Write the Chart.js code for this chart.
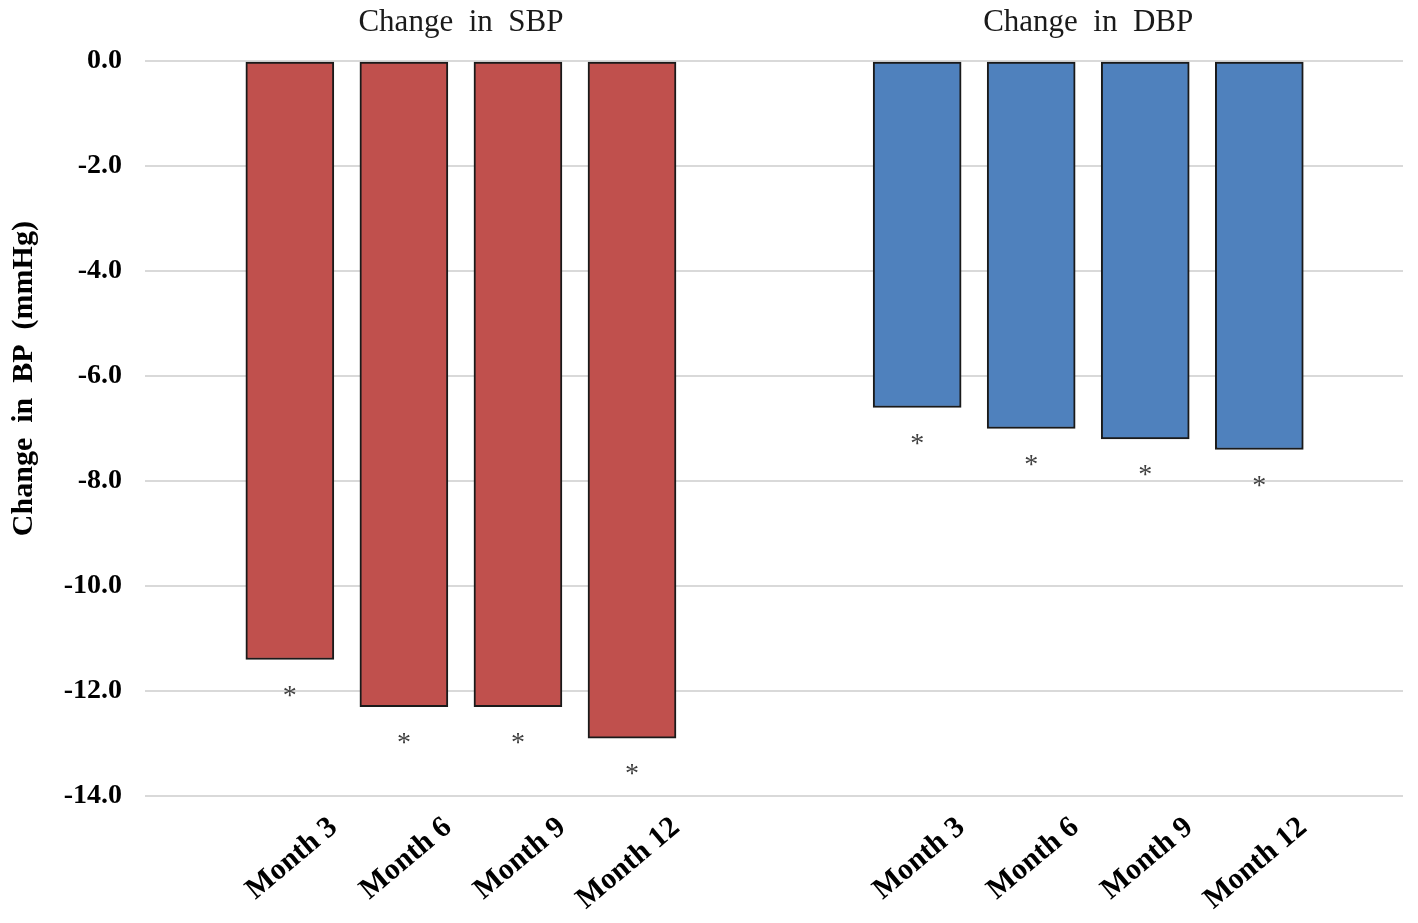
<!DOCTYPE html>
<html><head><meta charset="utf-8">
<script src="https://cdn.jsdelivr.net/npm/chart.js@4"></script>
<style>html,body{margin:0;padding:0;background:#fff;overflow:hidden;} #wrap{width:1418px;height:923px;}</style>
</head><body><div id="wrap"><canvas id="c" width="1418" height="923"></canvas></div>
<script>
// ---- data ----
const categories = ["Month 3", "Month 6", "Month 9", "Month 12"];
const sbpChange = [-11.4, -12.3, -12.3, -12.9];
const dbpChange = [-6.6, -7.0, -7.2, -7.4];
const panelTitles = ["Change in SBP", "Change in DBP"];
const sigMarks = ["*", "*", "*", "*"];
const yTickValues = [0, -2, -4, -6, -8, -10, -12, -14];
const yTitle = "Change in BP (mmHg)";

// ---- layout / style ----
const GROUP_START = [1, 6.5];
const seriesValues = [sbpChange, dbpChange];
const seriesColors = ["#C0504D", "#4F81BD"];
const SERIF = "'Liberation Serif', 'Times New Roman', serif";

const tickPos = [], tickLab = [];
seriesValues.forEach((vals, g) => categories.forEach((c, i) => { tickPos.push(GROUP_START[g] + i); tickLab.push(c); }));

const datasets = seriesValues.map((vals, g) => ({
  label: panelTitles[g],
  data: vals.map((v, i) => ({ x: GROUP_START[g] + i, y: v })),
  backgroundColor: seriesColors[g],
  borderColor: "#1a1a1a",
  borderWidth: 2,
  borderSkipped: false,
  barThickness: 88,
  grouped: false
}));

const annotPlugin = {
  id: "annot",
  afterDatasetsDraw(chart) {
    const ctx = chart.ctx, xs = chart.scales.x, ys = chart.scales.y;
    ctx.save();
    // asterisks
    ctx.fillStyle = "#404040";
    ctx.font = "28px " + SERIF;
    ctx.textAlign = "center";
    ctx.textBaseline = "alphabetic";
    chart.data.datasets.forEach((ds, di) => {
      chart.getDatasetMeta(di).data.forEach((el, i) => {
        ctx.fillText(sigMarks[i], el.x, el.y + 44);
      });
    });
    // panel titles
    ctx.fillStyle = "#1a1a1a";
    ctx.font = "31px " + SERIF;
    ctx.textBaseline = "middle";
    panelTitles.forEach((t, g) => {
      const cx = xs.getPixelForValue(GROUP_START[g] + (categories.length - 1) / 2);
      ctx.fillText(t.replace(/ /g, "\u2002"), cx, 23);
    });
    // y axis title
    ctx.fillStyle = "#000";
    ctx.font = "bold 30px " + SERIF;
    ctx.translate(24, ys.getPixelForValue(-6.05));
    ctx.rotate(-Math.PI / 2);
    ctx.fillText(yTitle.replace(/ /g, "\u2002"), 0, 0);
    ctx.restore();
  }
};

new Chart(document.getElementById("c"), {
  type: "bar",
  data: { datasets },
  plugins: [annotPlugin],
  options: {
    responsive: false,
    animation: false,
    layout: { padding: { top: 61, right: 15, left: 0, bottom: 0 } },
    plugins: { legend: { display: false }, tooltip: { enabled: false } },
    scales: {
      x: {
        type: "linear",
        offset: false,
        min: -0.27, max: 10.76,
        afterFit(s) { s.height = 127; },
        afterBuildTicks(s) { s.ticks = tickPos.map(v => ({ value: v })); },
        grid: { display: false },
        border: { display: false },
        ticks: {
          autoSkip: false,
          minRotation: 40, maxRotation: 40,
          labelOffset: 44,
          padding: 6,
          color: "#000",
          font: { family: SERIF, size: 30, weight: "bold" },
          callback: (v, i) => tickLab[i]
        }
      },
      y: {
        min: -14, max: 0,
        afterFit(s) { s.width = 145; },
        afterBuildTicks(s) { s.ticks = yTickValues.map(v => ({ value: v })); },
        grid: { color: "#d9d9d9", lineWidth: 2, drawTicks: false },
        border: { display: false },
        ticks: {
          padding: 23,
          color: "#000",
          font: { family: SERIF, size: 28, weight: "bold" },
          callback: v => Number(v).toFixed(1)
        }
      }
    }
  }
});
</script></body></html>
